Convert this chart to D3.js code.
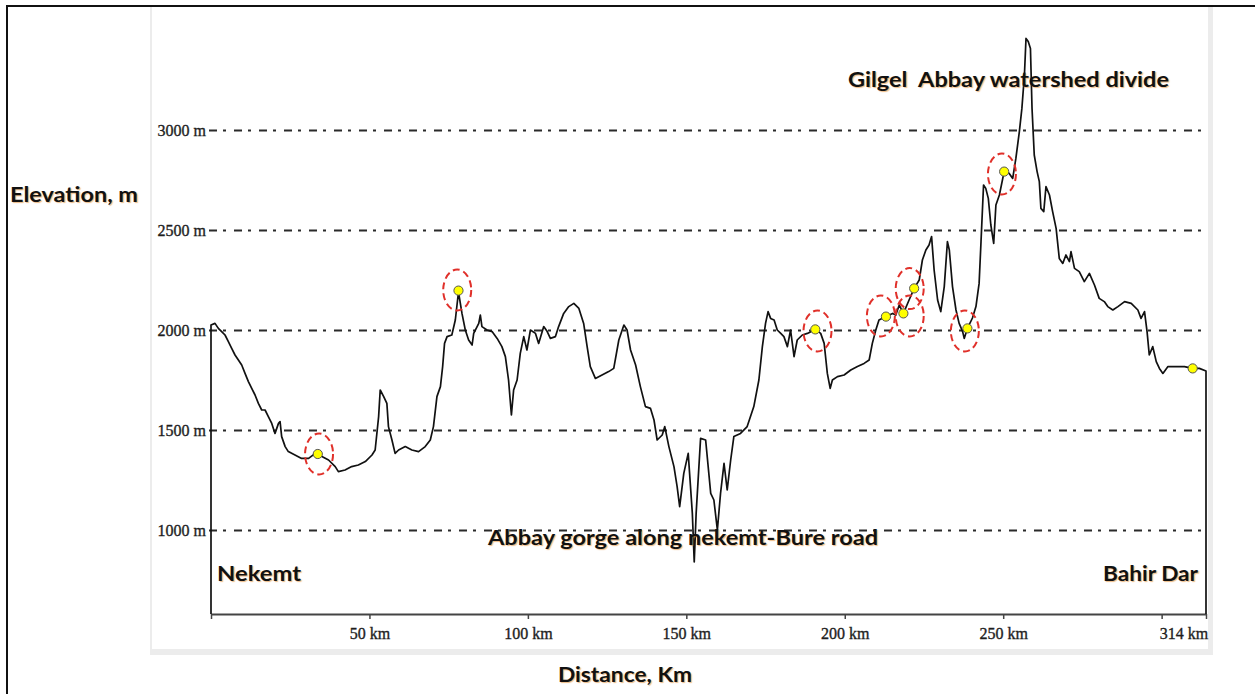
<!DOCTYPE html>
<html><head><meta charset="utf-8">
<script src="https://cdn.jsdelivr.net/npm/d3@7"></script>
<style>
html,body{margin:0;padding:0;background:#fff;}
svg{display:block;}
.lbl{font-family:Lato,"Open Sans",sans-serif;font-weight:700;fill:#111;font-size:21px;white-space:pre;text-shadow:1px 1px 1px rgba(225,140,50,0.6);}
.ax text{font-family:"Liberation Serif","Times New Roman",serif;font-size:16px;fill:#1e1e1e;stroke:#1e1e1e;stroke-width:0.35px;}
</style></head><body>
<svg id="c" width="1255" height="694"></svg>
<script>
// ---- data ----
const profileKm = [0,1.26,2.32,3.37,4.42,5.48,6.53,7.58,8.64,9.69,10.74,11.8,12.85,13.9,14.95,16.0,17.06,18.1,19.17,20.2,21.3,21.8,22.3,23.4,24.4,26.5,28.6,30.8,32.9,33.7,35.0,37.1,39.2,40.2,42.3,44.4,46.5,48.7,50.8,51.8,52.9,53.4,54.5,55.5,56.0,57.1,58.1,59.2,61.3,63.4,65.5,67.6,69.2,70.2,71.3,72.4,73.1,73.7,74.5,76.0,77.1,78.1,79.2,80.25,81.3,82.4,82.9,84.5,85.0,85.5,87.1,88.7,90.3,91.8,92.9,93.9,94.8,95.5,96.6,97.6,98.7,99.7,100.8,102.4,103.4,105.0,106.1,107.1,108.7,109.7,111.3,112.9,114.5,116.1,117.6,118.7,119.7,121.3,123.4,125.5,127.1,128.7,130.3,131.3,132.4,134.0,135.5,137.1,138.7,139.8,140.8,142.4,143.2,144.5,146.1,147.1,147.9,149.2,150.6,151.9,152.5,153.1,154.5,156.1,157.7,158.7,159.8,160.8,161.9,162.9,164.0,165.0,167.1,169.2,171.3,172.9,174.0,175.0,175.8,176.6,177.7,178.7,179.8,180.8,181.9,182.9,184.0,185.0,186.6,188.2,190.7,192.4,193.5,194.5,195.4,196.1,197.7,199.8,201.9,204.0,206.1,207.7,208.7,209.8,210.8,213.0,215.1,216.1,217.2,218.5,220.3,221.9,223.5,224.5,225.6,226.6,227.4,228.2,229.3,230.3,231.4,232.4,233.0,234.0,235.1,236.1,237.2,237.7,238.7,240.3,241.4,242.4,243.0,243.8,244.5,245.3,246.1,247.0,247.7,248.8,250.3,251.9,253.0,254.0,255.1,255.9,256.7,257.2,257.9,258.6,259.1,259.8,260.7,261.4,261.9,262.8,263.5,264.6,265.6,266.7,267.7,268.8,269.8,270.9,271.4,272.5,274.0,275.6,277.2,278.8,280.3,281.9,283.0,284.6,286.2,288.3,290.4,292.5,293.5,294.6,295.4,296.1,297.2,298.3,299.3,300.4,302.0,305.1,307.2,309.8,311.9,314.0];
const profileElev = [2025,2033,2008,1992,1975,1942,1908,1875,1850,1825,1783,1742,1708,1675,1633,1600,1600,1567,1533,1483,1533,1542,1467,1417,1392,1375,1358,1358,1383,1380,1367,1350,1317,1292,1300,1317,1325,1342,1375,1400,1567,1700,1667,1633,1517,1450,1383,1400,1417,1400,1392,1417,1450,1517,1667,1717,1817,1933,1967,1975,2050,2190,2083,2000,1950,1925,1983,2033,2075,2017,2000,1992,1958,1917,1867,1750,1575,1700,1750,1883,1967,1900,2000,1983,1933,2017,1992,1958,1967,2017,2083,2117,2133,2108,2033,1917,1817,1758,1775,1792,1808,1950,2025,2000,1900,1825,1717,1617,1608,1550,1450,1475,1517,1417,1317,1217,1117,1283,1383,1083,840,1083,1458,1450,1183,1150,1000,1183,1333,1200,1350,1467,1483,1517,1617,1750,1917,2033,2092,2058,2050,2000,1983,1967,1917,2000,1867,1950,1975,1983,2003,1983,1933,1783,1708,1750,1767,1775,1800,1817,1833,1850,1933,2000,2050,2067,2083,2075,2125,2083,2150,2208,2250,2350,2400,2425,2467,2300,2150,2092,2217,2442,2400,2217,2100,2033,1992,1958,2008,2060,2117,2233,2442,2725,2708,2658,2525,2433,2625,2675,2792,2783,2758,2858,2992,3108,3275,3458,3442,3408,3108,2875,2792,2742,2608,2592,2717,2675,2592,2508,2358,2333,2375,2342,2392,2308,2292,2242,2283,2225,2158,2142,2117,2100,2117,2142,2133,2100,2058,2092,1992,1875,1917,1842,1808,1783,1817,1817,1817,1808,1808,1795];
const markerKm   = [33.7, 78.1, 190.7, 213.0, 218.5, 221.9, 238.7, 250.3, 309.8];
const markerElev = [1380, 2197, 2003, 2067, 2083, 2208, 2008, 2792, 1808];
const ringKm   = [34.1, 77.7, 191.4, 211.4, 220.5, 220.5, 237.9, 249.6];
const ringElev = [1380, 2200, 1995, 2070, 2070, 2207, 1995, 2780];
const gridElev   = [1000, 1500, 2000, 2500, 3000];
const gridLabels = ["1000 m", "1500 m", "2000 m", "2500 m", "3000 m"];
const xTickKm     = [0, 50, 100, 150, 200, 250, 300, 314];
const xTickLabels = ["", "50 km", "100 km", "150 km", "200 km", "250 km", "", "314 km"];
const baseElev = 580, endKm = 314;

// ---- layout ----
const svg = d3.select("#c");
const x = d3.scaleLinear().domain([0, endKm]).range([211, 1206]);
const y = d3.scaleLinear().domain([baseElev, 3500]).range([614, 30]);

// outer frame
svg.append("path").attr("d","M7,700 L7,6 L1260,6").attr("fill","none").attr("stroke","#111").attr("stroke-width",2);
// grey panel shadow
svg.append("rect").attr("x",150).attr("y",7).attr("width",2).attr("height",648).attr("fill","#ececec");
svg.append("rect").attr("x",1208).attr("y",7).attr("width",5).attr("height",648).attr("fill","#ececec");
svg.append("rect").attr("x",150).attr("y",649).attr("width",1063).attr("height",6).attr("fill","#ececec");

// gridlines + y labels
const gy = svg.append("g").attr("class","ax").attr("transform","translate(209,0)")
  .call(d3.axisLeft(y).tickValues(gridElev).tickFormat((d,i)=>gridLabels[i]).tickSize(-996).tickPadding(3));
gy.select(".domain").remove();
gy.selectAll(".tick line").attr("stroke","#2a2a2a").attr("stroke-width",1.8).attr("stroke-dasharray","8,6,3,8");
gy.selectAll(".tick text").attr("font-size",null);

// x axis
const gx = svg.append("g").attr("class","ax").attr("transform","translate(0,614)")
  .call(d3.axisBottom(x).tickValues(xTickKm).tickFormat((d,i)=>xTickLabels[i]).tickSize(5).tickSizeOuter(0).tickPadding(4));
gx.select(".domain").attr("stroke","#444").attr("stroke-width",2);
gx.selectAll(".tick line").attr("stroke","#444").attr("stroke-width",1.5);
gx.selectAll(".tick text").attr("font-size",null).attr("dy","1.0em");
gx.selectAll(".tick").filter(d=>d===endKm).select("text").attr("text-anchor","end").attr("dx","0.1em");

// profile
const pts = [[0, baseElev]].concat(profileKm.map((k,i)=>[k, profileElev[i]]), [[endKm, baseElev]]);
svg.append("path").datum(pts)
  .attr("d", d3.line().x(d=>x(d[0])).y(d=>y(d[1])))
  .attr("fill","none").attr("stroke","#111").attr("stroke-width",1.7).attr("stroke-linejoin","round");

// red dashed rings
svg.selectAll("ellipse.ring").data(ringKm).join("ellipse").attr("class","ring")
  .attr("cx",(d)=>x(d)).attr("cy",(d,i)=>y(ringElev[i]))
  .attr("rx",14).attr("ry",20.5)
  .attr("fill","none").attr("stroke","#e0302a").attr("stroke-width",2).attr("stroke-dasharray","7,4");

// yellow markers
svg.selectAll("circle.mk").data(markerKm).join("circle").attr("class","mk")
  .attr("cx",(d)=>x(d)).attr("cy",(d,i)=>y(markerElev[i])).attr("r",4.6)
  .attr("fill","#ffff00").attr("stroke","#555").attr("stroke-width",1);

// labels
const labels = [
  {t:"Elevation, m", x:10, y:202, w:128},
  {t:"Gilgel  Abbay watershed divide", x:848, y:87, w:321},
  {t:"Abbay gorge along nekemt-Bure road", x:488, y:545, w:390},
  {t:"Nekemt", x:217, y:581, w:84},
  {t:"Bahir Dar", x:1103, y:581, w:95},
  {t:"Distance, Km", x:558, y:682, w:134}
];
svg.selectAll("text.lbl").data(labels).join("text").attr("class","lbl")
  .attr("x",d=>d.x).attr("y",d=>d.y).attr("textLength",d=>d.w).attr("lengthAdjust","spacingAndGlyphs")
  .text(d=>d.t);
</script>
</body></html>
